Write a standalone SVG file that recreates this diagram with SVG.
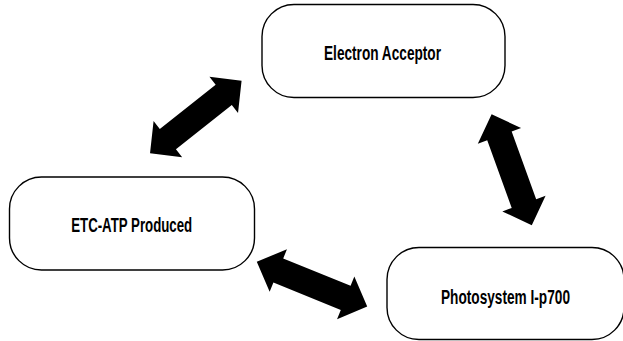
<svg xmlns="http://www.w3.org/2000/svg" xmlns:xlink="http://www.w3.org/1999/xlink" width="623" height="341" viewBox="0 0 623 341">
<style>
.box{fill:#fff;stroke:#000;stroke-width:1.4}
.lbl{font-family:"Liberation Sans",Arial,sans-serif;font-size:20px;font-weight:bold;fill:#000;text-anchor:middle}
.arr{fill:#000}
</style>
<defs>
<path id="dbl" d="M -59 0 L -36 -23 L -36 -13 L 36 -13 L 36 -23 L 59 0 L 36 23 L 36 13 L -36 13 L -36 23 Z"/>
</defs>
<rect width="623" height="341" fill="#fff"/>
<g id="connectors" class="arr">
<use xlink:href="#dbl" transform="translate(195.8 117) rotate(-38.4) scale(0.99 1)"/>
<use xlink:href="#dbl" transform="translate(312 284.2) rotate(22.1) scale(1.01 1)"/>
<use xlink:href="#dbl" transform="translate(511.7 169.7) rotate(70.1)"/>
</g>
<g id="electron-acceptor">
<rect class="box" x="262" y="4.5" width="243" height="93" rx="32" ry="32"/>
<text class="lbl" x="382.5" y="60" textLength="117" lengthAdjust="spacingAndGlyphs">Electron Acceptor</text>
</g>
<g id="etc-atp-produced">
<rect class="box" x="9.5" y="177" width="245" height="93" rx="32" ry="32"/>
<text class="lbl" x="131.7" y="231.7" textLength="121" lengthAdjust="spacingAndGlyphs">ETC-ATP Produced</text>
</g>
<g id="photosystem-i-p700">
<rect class="box" x="387" y="247.5" width="237" height="92" rx="32" ry="32"/>
<text class="lbl" x="505.5" y="304" textLength="129" lengthAdjust="spacingAndGlyphs">Photosystem I-p700</text>
</g>
</svg>
